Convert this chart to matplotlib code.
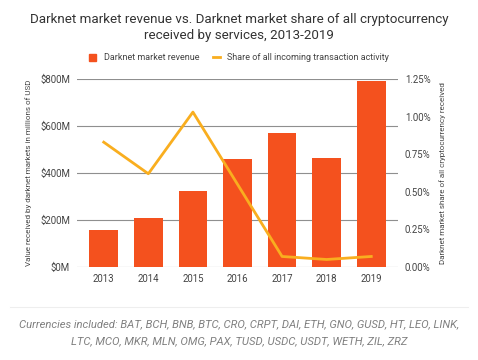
import numpy as np
import matplotlib.pyplot as plt
from matplotlib.lines import Line2D
from matplotlib.patches import Patch

plt.rcParams['font.family'] = ['Roboto', 'DejaVu Sans']

years = ['2013', '2014', '2015', '2016', '2017', '2018', '2019']
revenue = [157, 207, 325, 458, 569, 465, 791]  # millions USD
share = [0.83, 0.62, 1.03, 0.55, 0.07, 0.05, 0.07]  # percent

bar_color = '#F4511E'
line_color = '#F9AE1F'
grid_color = '#8f8f8f'
text_color = '#444444'

fig = plt.figure(figsize=(4.78, 3.6), dpi=100)
ax = fig.add_axes([77/478, 1 - 267/360, (398-77)/478, (267-79)/360])
x = np.arange(len(years))
ax.bar(x, revenue, width=0.64, color=bar_color, zorder=2)
ax.set_ylim(0, 800)
ax.set_xlim(-0.6, len(years) - 0.4)
ax.set_yticks([0, 200, 400, 600, 800])
ax.set_yticklabels(['$0M', '$200M', '$400M', '$600M', '$800M'])
ax.set_xticks(x)
ax.set_xticklabels(years)
ax.grid(axis='y', color=grid_color, linewidth=0.8, zorder=0)
for s in ax.spines.values():
    s.set_visible(False)
ax.tick_params(axis='both', length=0, labelsize=6.9, colors=text_color, pad=5)
ax.set_ylabel('Value received by darknet markets in millions of USD',
              fontsize=5.8, color=text_color, labelpad=6)

ax2 = ax.twinx()
ax2.plot(x, share, color=line_color, linewidth=2, zorder=3)
ax2.set_ylim(0, 1.25)
ax2.set_yticks([0, 0.25, 0.5, 0.75, 1.0, 1.25])
ax2.set_yticklabels(['0.00%', '0.25%', '0.50%', '0.75%', '1.00%', '1.25%'])
for s in ax2.spines.values():
    s.set_visible(False)
ax2.tick_params(axis='y', length=0, labelsize=6.9, colors=text_color, pad=5)
ax2.set_ylabel('Darknet market share of all cryptocurrency received',
               fontsize=5.8, color=text_color, labelpad=6)

fig.text(0.5, 1 - 20/360, 'Darknet market revenue vs. Darknet market share of all cryptocurrency',
         ha='center', va='center', fontsize=9.6, color='#333333')
fig.text(0.5, 1 - 36/360, 'received by services, 2013-2019',
         ha='center', va='center', fontsize=9.6, color='#333333')

handles = [Patch(color=bar_color), Line2D([0], [0], color=line_color, linewidth=2)]
fig.legend(handles, ['Darknet market revenue', 'Share of all incoming transaction activity'],
           loc='center', bbox_to_anchor=(0.5, 1 - 58/360), ncol=2, frameon=False,
           fontsize=6.5, handlelength=0.8, handleheight=0.8, columnspacing=1.5,
           labelcolor=text_color)

fig.add_artist(Line2D([0.02, 0.98], [1 - 307/360, 1 - 307/360], color='#eeeeee', linewidth=0.8))
fig.text(0.5, 1 - 324/360, 'Currencies included: BAT, BCH, BNB, BTC, CRO, CRPT, DAI, ETH, GNO, GUSD, HT, LEO, LINK,',
         ha='center', va='center', fontsize=8.1, style='italic', color='#808080')
fig.text(0.5, 1 - 341/360, 'LTC, MCO, MKR, MLN, OMG, PAX, TUSD, USDC, USDT, WETH, ZIL, ZRZ',
         ha='center', va='center', fontsize=8.1, style='italic', color='#808080')

fig.savefig('out.png', dpi=100)
